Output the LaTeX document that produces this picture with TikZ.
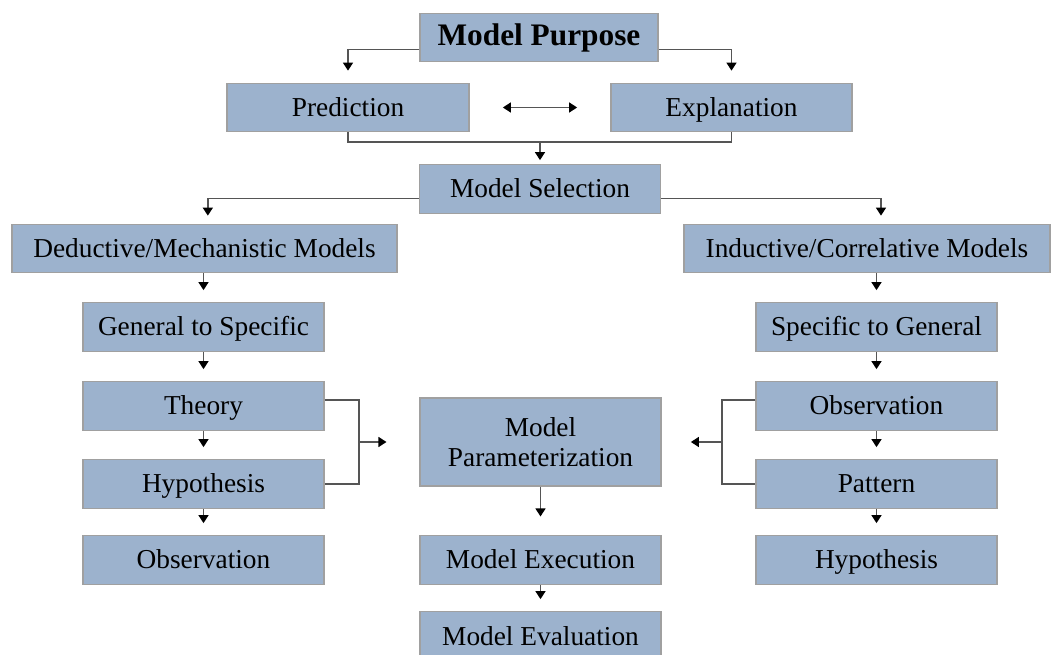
\documentclass[tikz,border=0pt]{standalone}
\usepackage{fontspec}
\setmainfont{Liberation Serif}
\usetikzlibrary{arrows.meta,positioning}
\definecolor{boxfill}{RGB}{156,178,205}
\definecolor{boxline}{RGB}{160,160,160}
\definecolor{linkgray}{RGB}{85,85,85}

\begin{document}
\begin{tikzpicture}
    [x=0.75pt,y=-0.75pt,inner sep=1mm,
    stage/.style={rectangle,draw=boxline,fill=boxfill,line width=0.8pt,
      minimum width=180.75pt,minimum height=36.5pt,text height=17pt,text depth=3.5pt,
      font=\fontsize{20.5}{22}\selectfont,align=center},
    head/.style={stage,minimum width=178.5pt,text height=,text depth=,
      font=\fontsize{23.5}{26}\selectfont\bfseries},
    link/.style={draw=linkgray,line width=1pt},
    tip/.style={-{Triangle[width=7.5pt,length=6pt,color=black]}},
    flow/.style={link,tip,shorten >=9pt}]
    \useasboundingbox (0,0) rectangle (1057,655);
    % purpose and selection
    \node (purpose) at (539,37.5) [head] {Model Purpose};
    \node (predict) at (348,107.5) [stage,minimum width=181.5pt] {Prediction};
    \node (explain) at (731.5,107.5) [stage] {Explanation};
    \node (select) at (540,189) [stage] {Model Selection};
    \coordinate (join) at (540,142);
    % left column
    \node (deduct) at (204.5,248.5) [stage,minimum width=288.75pt] {Deductive/Mechanistic Models};
    \node (general) at (203.5,327) [stage] {General to Specific};
    \node (theory) at (203.5,406) [stage] {Theory};
    \node (lhyp) at (203.5,484) [stage] {Hypothesis};
    \node (lobs) at (203.5,560) [stage] {Observation};
    % right column
    \node (induct) at (867,248.5) [stage,minimum width=274.5pt] {Inductive/Correlative Models};
    \node (specific) at (876.5,327) [stage] {Specific to General};
    \node (robs) at (876.5,406) [stage] {Observation};
    \node (pattern) at (876.5,484) [stage] {Pattern};
    \node (rhyp) at (876.5,560) [stage] {Hypothesis};
    % middle column
    \node (param) at (540.5,442) [stage,minimum height=66pt,text height=,text depth=] {Model\\Parameterization};
    \node (exec) at (540.5,560) [stage] {Model Execution};
    \node (eval) at (540.5,636) [stage] {Model Evaluation};
    \coordinate (lbr) at (359,442);
    \coordinate (rbr) at (722,442);

    \draw [flow] ([yshift=-9pt]purpose.west) -| (predict.north);
    \draw [flow] ([yshift=-9pt]purpose.east) -| (explain.north);
    \draw [link,{Triangle[width=7.5pt,length=6pt,color=black]}-{Triangle[width=7.5pt,length=6pt,color=black]},
      shorten <=25pt,shorten >=25pt] (predict.east) -- (explain.west);
    \draw [link] (predict.south) |- (join) -| (explain.south);
    \draw [flow,shorten >=3pt] (join) -- (select.north);
    \draw [flow,shorten >=6pt] ([yshift=-7pt]select.west) -| ([xshift=2.5pt]deduct.north);
    \draw [flow,shorten >=6pt] ([yshift=-7pt]select.east) -| ([xshift=10.5pt]induct.north);

    \draw [flow] (deduct.south -| general) -- (general.north);
    \draw [flow] (general) -- (theory);
    \draw [flow] (theory) -- (lhyp);
    \draw [flow] (lhyp) -- (lobs);
    \draw [flow] (induct.south -| specific) -- (specific.north);
    \draw [flow] (specific) -- (robs);
    \draw [flow] (robs) -- (pattern);
    \draw [flow] (pattern) -- (rhyp);
    \draw [flow,shorten >=14pt] (param) -- (exec);
    \draw [flow] (exec) -- (eval);

    \draw [link] ([yshift=4.5pt]theory.east) -| (lbr) |- (lhyp.east);
    \draw [flow,shorten >=24.75pt] (lbr) -- (param.west);
    \draw [link] ([yshift=4.5pt]robs.west) -| (rbr) |- (pattern.west);
    \draw [flow,shorten >=22pt] (rbr) -- (param.east);
\end{tikzpicture}
\end{document}
